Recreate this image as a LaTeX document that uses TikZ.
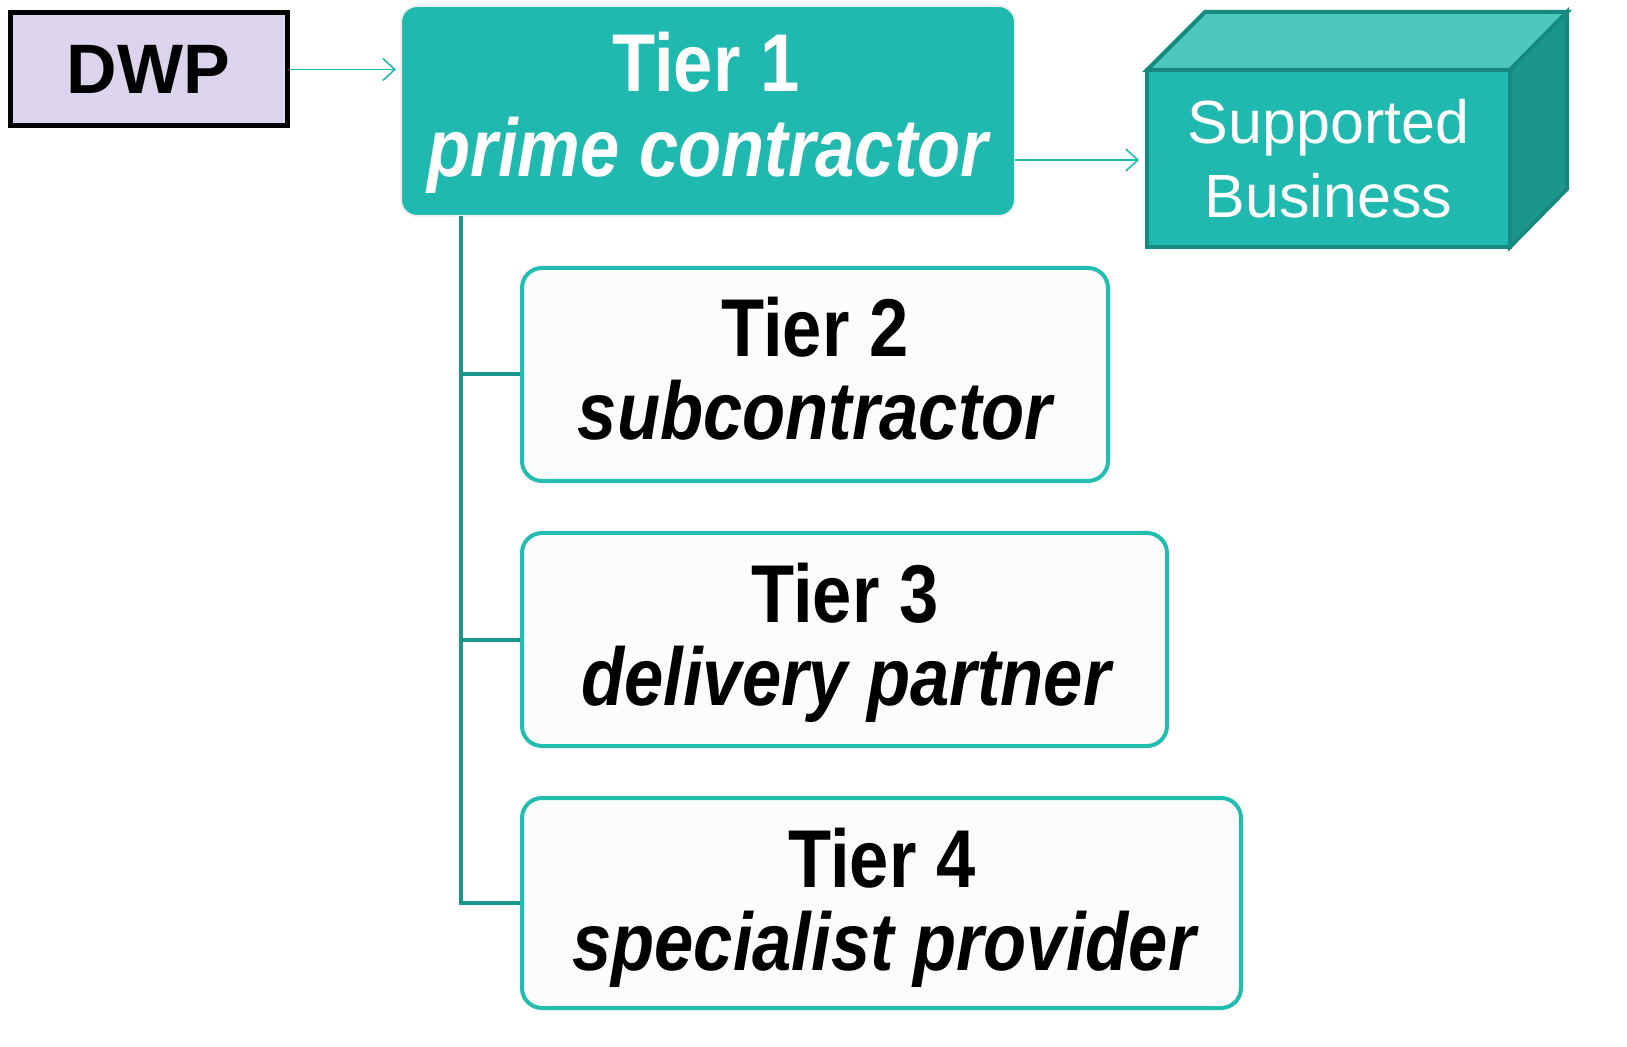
\documentclass[tikz,border=0pt]{standalone}
\usepackage{fontspec}
\setmainfont{Liberation Sans}
\newfontfamily\narrowfont[FakeStretch=0.86]{Liberation Sans}
\usetikzlibrary{arrows.meta}
\definecolor{teal1}{HTML}{20B9AF}
\definecolor{tealdark}{HTML}{1A968C}
\definecolor{tealedge}{HTML}{168A80}
\definecolor{teallight}{HTML}{4DC8BF}
\definecolor{tealside}{HTML}{1A968C}
\definecolor{tealborder}{HTML}{22BDB1}
\definecolor{lav}{HTML}{DCD3EC}
\definecolor{boxfill}{HTML}{FCFCFC}
\tikzset{
  tierbox/.style={draw=tealborder, line width=2pt, fill=boxfill, rounded corners=10pt, inner sep=0pt},
  primebox/.style={draw=gray!12, line width=1pt, fill=teal1, rounded corners=8pt, inner sep=0pt},
  dwpbox/.style={draw=black, line width=2.5pt, fill=lav, inner sep=0pt},
  tiertitle/.style={anchor=base, inner sep=0pt, font=\narrowfont\bfseries\fontsize{41}{41}\selectfont},
  tiersub/.style={anchor=base, inner sep=0pt, font=\narrowfont\bfseries\itshape\fontsize{41}{41}\selectfont},
  flow/.style={draw=teal1, line width=0.8pt, -{Straight Barb[length=6pt,width=11pt,line width=0.8pt]}},
  trunkline/.style={draw=tealdark, line width=2pt},
  cubeface/.style={draw=tealedge, line width=2pt, line join=miter}
}
\begin{document}
\begin{tikzpicture}[x=0.5pt,y=-0.5pt]
\useasboundingbox (0,0) rectangle (1627,1047);
% DWP
\node[dwpbox, minimum width=138.5pt, minimum height=56.5pt, font=\bfseries\fontsize{35}{35}\selectfont] (dwp) at (148.5,69.5) {DWP};
% Tier 1
\node[primebox, minimum width=307pt, minimum height=105pt] (t1) at (708,111) {};
\node[tiertitle, text=white] (t1a) at (706,92) {Tier 1};
\node[tiersub, text=white] (t1b) at (708,177) {prime contractor};
% Tier boxes
\node[tierbox, minimum width=293pt, minimum height=106.5pt] (t2) at (815,374.5) {};
\node[tiertitle] (t2a) at (815,357) {Tier 2};
\node[tiersub] (t2b) at (815,440) {subcontractor};
\node[tierbox, minimum width=322.5pt, minimum height=106.5pt] (t3) at (844.5,639.5) {};
\node[tiertitle] (t3a) at (845,622) {Tier 3};
\node[tiersub] (t3b) at (846,705) {delivery partner};
\node[tierbox, minimum width=359.5pt, minimum height=105pt] (t4) at (881.5,903) {};
\node[tiertitle] (t4a) at (882,887) {Tier 4};
\node[tiersub] (t4b) at (884,970) {specialist provider};
% Cube
\coordinate (fa) at (1147,70);
\coordinate (fb) at (1510,70);
\coordinate (fc) at (1510,247);
\coordinate (fd) at (1147,247);
\coordinate (ba) at (1205,12);
\coordinate (bb) at (1567,12);
\coordinate (bc) at (1567,189);
\filldraw[cubeface, fill=teallight] (fa) -- (ba) -- (bb) -- (fb) -- cycle;
\filldraw[cubeface, fill=tealside] (fb) -- (bb) -- (bc) -- (fc) -- cycle;
\node[cubeface, fill=teal1, minimum width=181.5pt, minimum height=88.5pt, inner sep=0pt, align=center, text=white, font=\fontsize{30.5}{37}\selectfont] (sb) at (1328.5,158.5) {Supported\\Business};
% connectors
\coordinate (trunk) at (461,216);
\draw[trunkline] (trunk) |- (t4.west);
\draw[trunkline] (trunk |- t2.west) -- (t2.west);
\draw[trunkline] (trunk |- t3.west) -- (t3.west);
\draw[flow, shorten >=2pt] (dwp.east) -- (dwp.east -| t1.west);
\coordinate (t1out) at (1015,160);
\draw[flow, shorten >=3pt] (t1out) -- (sb.west |- t1out);
\end{tikzpicture}
\end{document}
